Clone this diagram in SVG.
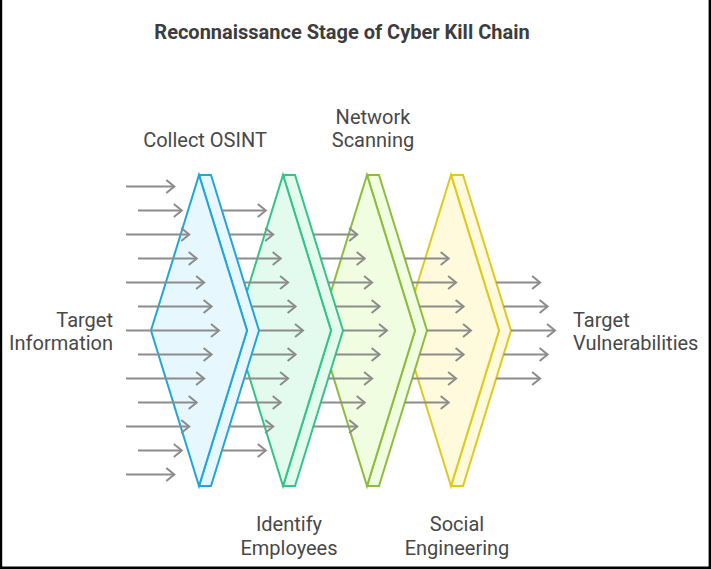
<svg xmlns="http://www.w3.org/2000/svg" width="711" height="569" viewBox="0 0 711 569">
<style>
  .lbl { font-family: Roboto, "Liberation Sans", sans-serif; font-size: 20px; fill: #484848; }
  .ttl { font-family: Roboto, "Liberation Sans", sans-serif; font-size: 20px; font-weight: bold; fill: #3d3d3d; }
  .arr { stroke: #8c8c8c; stroke-width: 2; fill: none; marker-end: url(#ah); }
  .c1 { stroke: #22a6d8; fill: #e7f7fe; stroke-width: 2; }
  .c2 { stroke: #34c487; fill: #e2fbee; stroke-width: 2; }
  .c3 { stroke: #8dbd3c; fill: #f1fde1; stroke-width: 2; }
  .c4 { stroke: #e0c91f; fill: #fffadc; stroke-width: 2; }
</style>
<defs>
  <marker id="ah" markerUnits="userSpaceOnUse" markerWidth="12" markerHeight="16" viewBox="-10 -8 12 16" refX="0" refY="0" orient="auto">
    <path d="M-8,-6.5 L0,0 L-8,6.5" fill="none" stroke="#8c8c8c" stroke-width="2"/>
  </marker>
</defs>
<rect x="0" y="0" width="711" height="569" fill="#ffffff"/>
<path d="M1,0 V567.8 H709.8 V0" fill="none" stroke="#000000" stroke-width="2.4"/>

<text class="ttl" x="342" y="38.5" text-anchor="middle">Reconnaissance Stage of Cyber Kill Chain</text>

<g id="stage4">
  <polygon class="c4" points="451,175 463,175 511,330.5 463,486 451,486 499,330.5"/>
  <polygon class="c4" points="451,175 499,330.5 451,486 403,330.5"/>
  <text class="lbl" x="457" y="530.5" text-anchor="middle">Social</text>
  <text class="lbl" x="457" y="554.5" text-anchor="middle">Engineering</text>
</g>
<g id="stage3">
  <polygon class="c3" points="367,175 379,175 427,330.5 379,486 367,486 415,330.5"/>
  <polygon class="c3" points="367,175 415,330.5 367,486 319,330.5"/>
  <text class="lbl" x="373" y="123.5" text-anchor="middle">Network</text>
  <text class="lbl" x="373" y="146.5" text-anchor="middle">Scanning</text>
</g>
<g id="stage2">
  <polygon class="c2" points="283,175 295,175 343,330.5 295,486 283,486 331,330.5"/>
  <polygon class="c2" points="283,175 331,330.5 283,486 235,330.5"/>
  <text class="lbl" x="289" y="530.5" text-anchor="middle">Identify</text>
  <text class="lbl" x="289" y="554.5" text-anchor="middle">Employees</text>
</g>
<g id="stage1">
  <polygon class="c1" points="199,175 211,175 259,330.5 211,486 199,486 247,330.5"/>
  <polygon class="c1" points="199,175 247,330.5 199,486 151,330.5"/>
  <text class="lbl" x="205" y="146.5" text-anchor="middle">Collect OSINT</text>
</g>
<g id="input">
  <text class="lbl" x="113" y="326.5" text-anchor="end">Target</text>
  <text class="lbl" x="113" y="349.5" text-anchor="end">Information</text>
</g>
<g id="output">
  <text class="lbl" x="573" y="326.5">Target</text>
  <text class="lbl" x="573" y="349.5">Vulnerabilities</text>
</g>

<g id="connectors">
  <path class="arr" d="M126,186.5 H174.3"/>
  <path class="arr" d="M138,210.5 H181.8"/>
  <path class="arr" d="M126,234.5 H189.2"/>
  <path class="arr" d="M138,258.5 H196.7"/>
  <path class="arr" d="M126,282.5 H204.1"/>
  <path class="arr" d="M138,306.5 H211.6"/>
  <path class="arr" d="M126,330.5 H219"/>
  <path class="arr" d="M138,354.5 H211.6"/>
  <path class="arr" d="M126,378.5 H204.1"/>
  <path class="arr" d="M138,402.5 H196.7"/>
  <path class="arr" d="M126,426.5 H189.2"/>
  <path class="arr" d="M138,450.5 H181.8"/>
  <path class="arr" d="M126,474.5 H174.3"/>

  <path class="arr" d="M222,210.5 H265.8"/>
  <path class="arr" d="M229.4,234.5 H273.2"/>
  <path class="arr" d="M236.8,258.5 H280.7"/>
  <path class="arr" d="M244.2,282.5 H288.1"/>
  <path class="arr" d="M251.6,306.5 H295.6"/>
  <path class="arr" d="M259,330.5 H303"/>
  <path class="arr" d="M251.6,354.5 H295.6"/>
  <path class="arr" d="M244.2,378.5 H288.1"/>
  <path class="arr" d="M236.8,402.5 H280.7"/>
  <path class="arr" d="M229.4,426.5 H273.2"/>
  <path class="arr" d="M222,450.5 H265.8"/>

  <path class="arr" d="M313.4,234.5 H357.2"/>
  <path class="arr" d="M320.8,258.5 H364.7"/>
  <path class="arr" d="M328.2,282.5 H372.1"/>
  <path class="arr" d="M335.6,306.5 H379.6"/>
  <path class="arr" d="M343,330.5 H387"/>
  <path class="arr" d="M335.6,354.5 H379.6"/>
  <path class="arr" d="M328.2,378.5 H372.1"/>
  <path class="arr" d="M320.8,402.5 H364.7"/>
  <path class="arr" d="M313.4,426.5 H357.2"/>

  <path class="arr" d="M404.8,258.5 H448.7"/>
  <path class="arr" d="M412.2,282.5 H456.1"/>
  <path class="arr" d="M419.6,306.5 H463.6"/>
  <path class="arr" d="M427,330.5 H471"/>
  <path class="arr" d="M419.6,354.5 H463.6"/>
  <path class="arr" d="M412.2,378.5 H456.1"/>
  <path class="arr" d="M404.8,402.5 H448.7"/>

  <path class="arr" d="M496.2,282.5 H540.1"/>
  <path class="arr" d="M503.6,306.5 H547.6"/>
  <path class="arr" d="M511,330.5 H555"/>
  <path class="arr" d="M503.6,354.5 H547.6"/>
  <path class="arr" d="M496.2,378.5 H540.1"/>
</g>
</svg>
